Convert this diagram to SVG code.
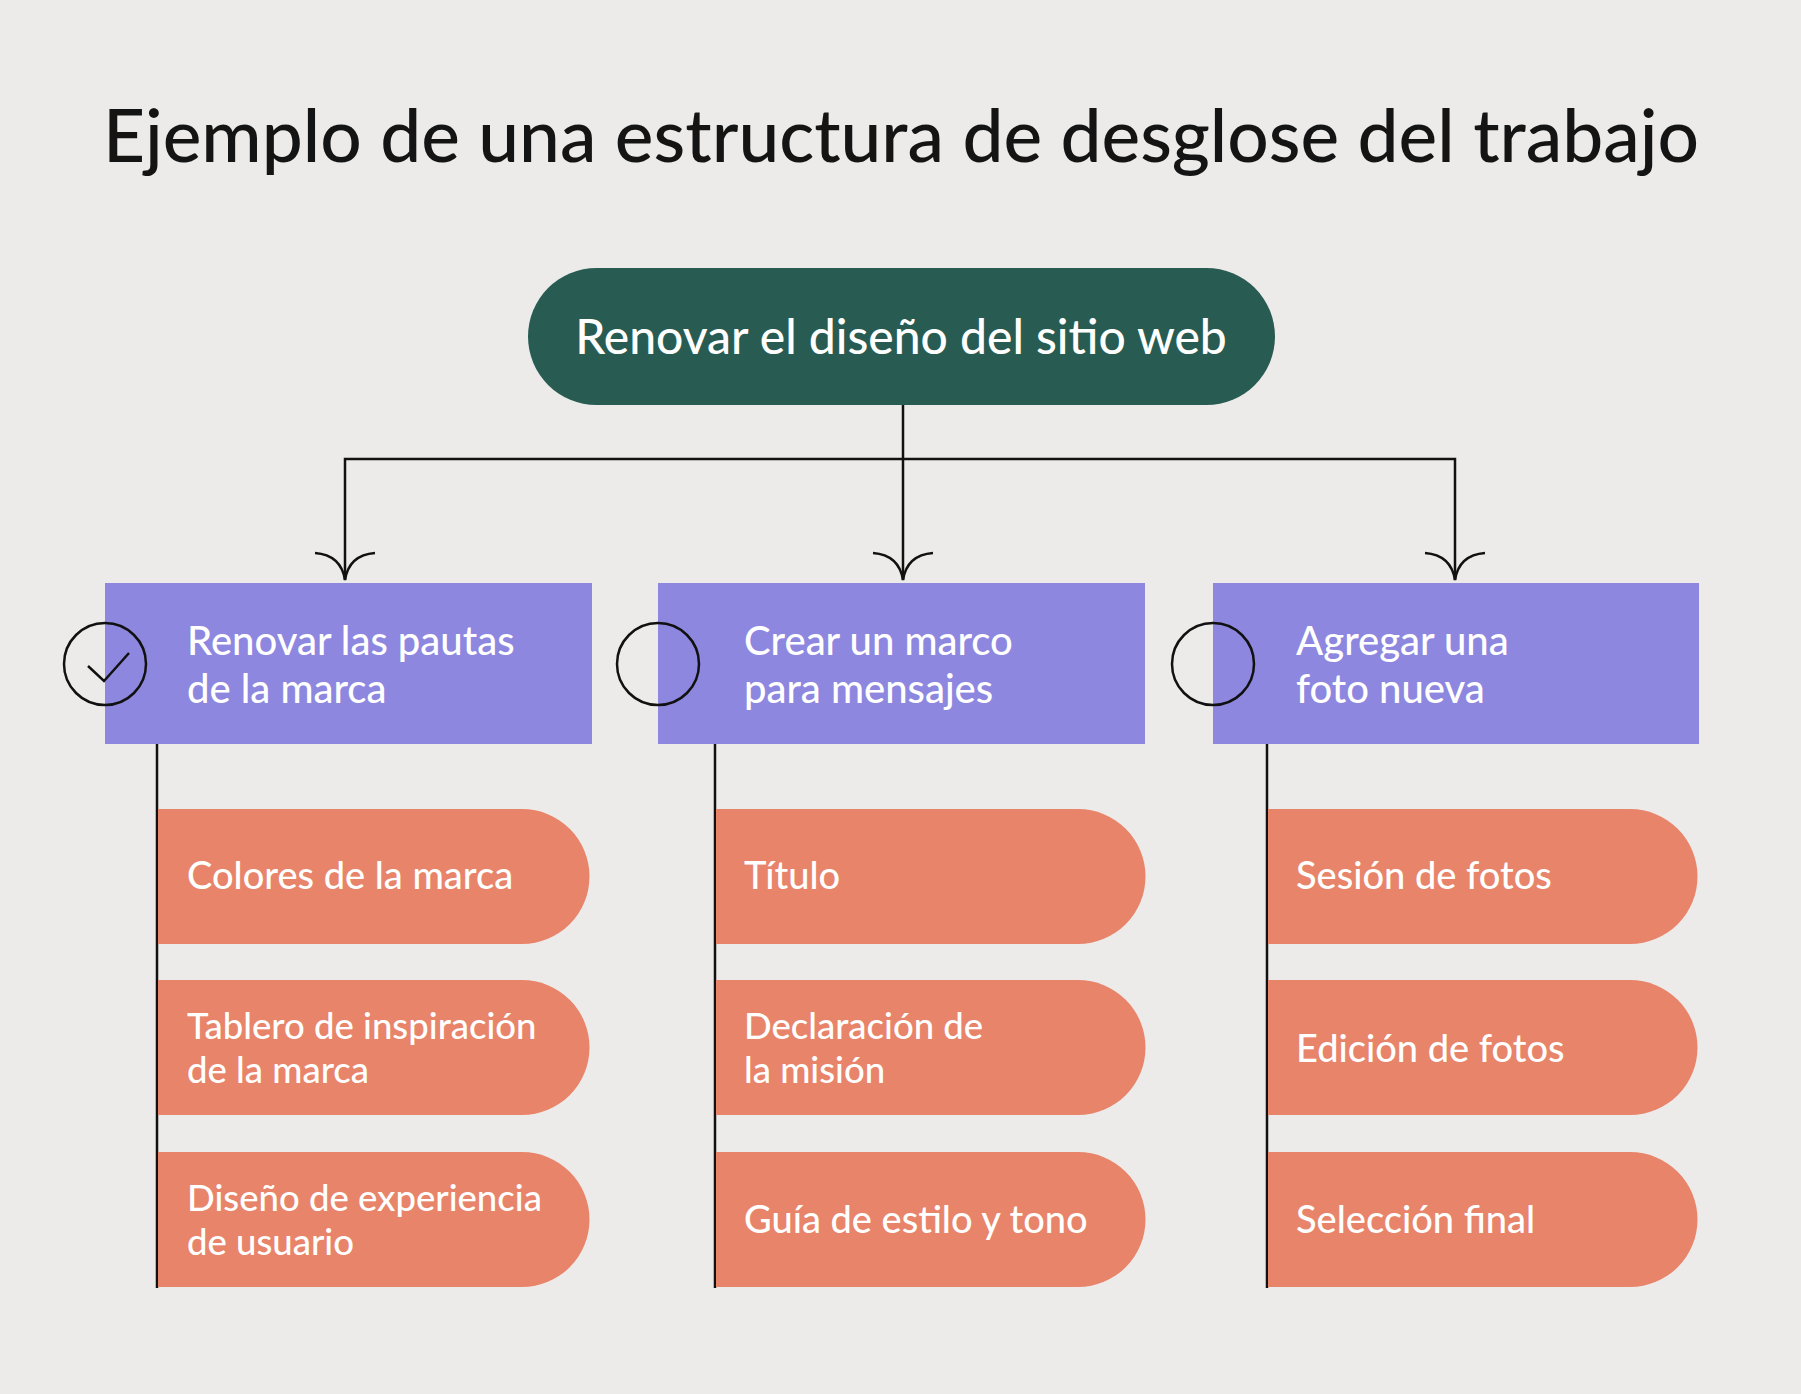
<svg xmlns="http://www.w3.org/2000/svg" width="1801" height="1394" viewBox="0 0 1801 1394">
<defs>
<style>
.bg{fill:#ecebea}
.title{font-family:Lato,"Liberation Sans",sans-serif;font-size:73px;fill:#141414;font-weight:500}
.root{fill:#285c52}
.roott{font-family:Lato,"Liberation Sans",sans-serif;font-size:48px;fill:#ffffff;font-weight:500}
.l2{fill:#8d87e0}
.l3{fill:#e8846a}
.t{font-family:Lato,"Liberation Sans",sans-serif;font-size:38px;fill:#ffffff;font-weight:500}
.t2{font-family:Lato,"Liberation Sans",sans-serif;font-size:36.5px;fill:#ffffff;font-weight:500}
.h{font-family:Lato,"Liberation Sans",sans-serif;font-size:40px;fill:#ffffff;font-weight:500}
.ln{stroke:#111;stroke-width:2.5;fill:none}
.circ{stroke:#111;stroke-width:2.5;fill:none}
</style>
</defs>
<rect class="bg" x="0" y="0" width="1801" height="1394"/>
<text class="title" x="901" y="162" text-anchor="middle">Ejemplo de una estructura de desglose del trabajo</text>

<g id="connectors">
<path class="ln" d="M903 405 V580"/>
<path class="ln" d="M345 580 V459 H1455 V580"/>
<path class="ln" d="M873 553 Q899 555 903 580 Q907 555 933 553"/>
<path class="ln" d="M315 553 Q341 555 345 580 Q349 555 375 553"/>
<path class="ln" d="M1425 553 Q1451 555 1455 580 Q1459 555 1485 553"/>
<path class="ln" d="M157 744 V1288"/>
<path class="ln" d="M715 744 V1288"/>
<path class="ln" d="M1267 744 V1288"/>
</g>

<g id="root">
<rect class="root" x="528" y="268" width="747" height="137" rx="68.5"/>
<text class="roott" x="901" y="354" text-anchor="middle">Renovar el diseño del sitio web</text>
</g>

<g id="n1">
<rect class="l2" x="105" y="583" width="487" height="161"/>
<circle class="circ" cx="105" cy="664" r="41"/>
<path class="ln" d="M88 666 L104 681 L129 653"/>
<text class="h" x="187" y="655">Renovar las pautas</text>
<text class="h" x="187" y="703">de la marca</text>
</g>
<g id="n2">
<rect class="l2" x="658" y="583" width="487" height="161"/>
<circle class="circ" cx="658" cy="664" r="41"/>
<text class="h" x="744" y="655">Crear un marco</text>
<text class="h" x="744" y="703">para mensajes</text>
</g>
<g id="n3">
<rect class="l2" x="1213" y="583" width="486" height="161"/>
<circle class="circ" cx="1213" cy="664" r="41"/>
<text class="h" x="1296" y="655">Agregar una</text>
<text class="h" x="1296" y="703">foto nueva</text>
</g>

<g id="n1a"><path class="l3" d="M158 809 H522 A67.5 67.5 0 0 1 522 944 H158 Z"/><text class="t" x="187" y="889">Colores de la marca</text></g>
<g id="n1b"><path class="l3" d="M158 980 H522 A67.5 67.5 0 0 1 522 1115 H158 Z"/><text class="t2" x="187" y="1039">Tablero de inspiración</text><text class="t2" x="187" y="1083">de la marca</text></g>
<g id="n1c"><path class="l3" d="M158 1152 H522 A67.5 67.5 0 0 1 522 1287 H158 Z"/><text class="t2" x="187" y="1211">Diseño de experiencia</text><text class="t2" x="187" y="1255">de usuario</text></g>

<g id="n2a"><path class="l3" d="M716 809 H1078 A67.5 67.5 0 0 1 1078 944 H716 Z"/><text class="t" x="744" y="889">Título</text></g>
<g id="n2b"><path class="l3" d="M716 980 H1078 A67.5 67.5 0 0 1 1078 1115 H716 Z"/><text class="t2" x="744" y="1039">Declaración de</text><text class="t2" x="744" y="1083">la misión</text></g>
<g id="n2c"><path class="l3" d="M716 1152 H1078 A67.5 67.5 0 0 1 1078 1287 H716 Z"/><text class="t" x="744" y="1233">Guía de estilo y tono</text></g>

<g id="n3a"><path class="l3" d="M1268 809 H1630 A67.5 67.5 0 0 1 1630 944 H1268 Z"/><text class="t" x="1296" y="889">Sesión de fotos</text></g>
<g id="n3b"><path class="l3" d="M1268 980 H1630 A67.5 67.5 0 0 1 1630 1115 H1268 Z"/><text class="t" x="1296" y="1062">Edición de fotos</text></g>
<g id="n3c"><path class="l3" d="M1268 1152 H1630 A67.5 67.5 0 0 1 1630 1287 H1268 Z"/><text class="t" x="1296" y="1233">Selección final</text></g>
</svg>
